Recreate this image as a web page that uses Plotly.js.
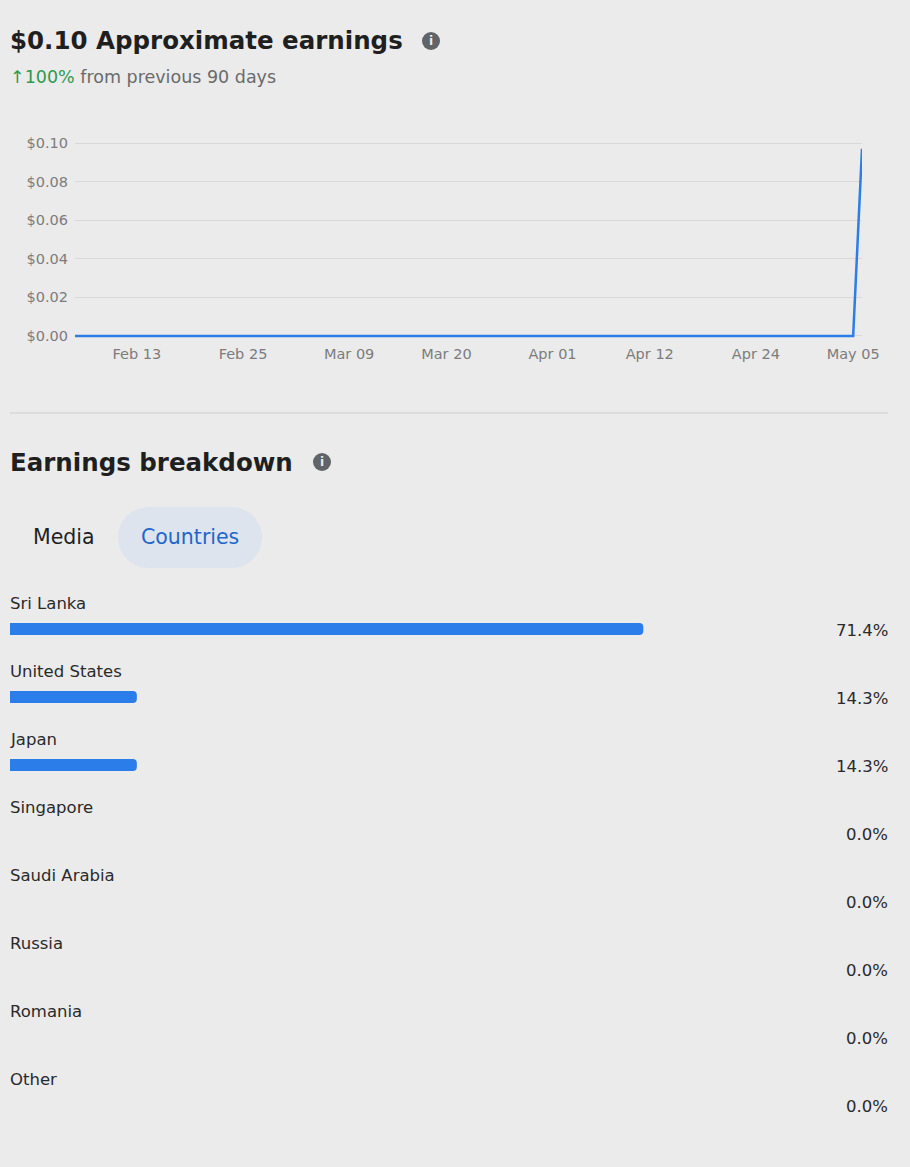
<!DOCTYPE html>
<html>
<head>
<meta charset="utf-8">
<script src="https://cdn.plot.ly/plotly-3.0.1.min.js"></script>
<style>
  html, body { margin: 0; padding: 0; background: #ebebeb; }
  #chart { width: 910px; height: 1167px; }
</style>
</head>
<body>
<div id="chart"></div>
<script>
// ---------- DATA ----------
const startDate = '2025-02-06';
const earnings = [
  0,0,0,0,0,0,0,0,0,0,
  0,0,0,0,0,0,0,0,0,0,
  0,0,0,0,0,0,0,0,0,0,
  0,0,0,0,0,0,0,0,0,0,
  0,0,0,0,0,0,0,0,0,0,
  0,0,0,0,0,0,0,0,0,0,
  0,0,0,0,0,0,0,0,0,0,
  0,0,0,0,0,0,0,0,0,0,
  0,0,0,0,0,0,0,0,0,0.097
];
const xTickVals = ['2025-02-13','2025-02-25','2025-03-09','2025-03-20','2025-04-01','2025-04-12','2025-04-24','2025-05-05'];
const xTickText = ['Feb 13','Feb 25','Mar 09','Mar 20','Apr 01','Apr 12','Apr 24','May 05'];
const yTickVals = [0, 0.02, 0.04, 0.06, 0.08, 0.10];
const yTickText = ['$0.00','$0.02','$0.04','$0.06','$0.08','$0.10'];

const countries = ['Sri Lanka','United States','Japan','Singapore','Saudi Arabia','Russia','Romania','Other'];
const shares = [71.4, 14.3, 14.3, 0.0, 0.0, 0.0, 0.0, 0.0];

// daily dates for the earnings series
const dates = earnings.map((_, i) => {
  const d = new Date(startDate + 'T00:00:00Z');
  d.setUTCDate(d.getUTCDate() + i);
  return d.toISOString().slice(0, 10);
});

// ---------- LAYOUT HELPERS ----------
const W = 910, H = 1167;
const fx = p => p / W;
const fy = p => 1 - p / H;

function pillPath(x0, y0, x1, y1, r) {
  const k = 0.5523 * r;
  const P = (x, y) => fx(x).toFixed(5) + ',' + fy(y).toFixed(5);
  return 'M' + P(x0 + r, y0) +
    ' L' + P(x1 - r, y0) +
    ' C' + P(x1 - r + k, y0) + ' ' + P(x1, y0 + r - k) + ' ' + P(x1, y0 + r) +
    ' C' + P(x1, y0 + r + k) + ' ' + P(x1 - r + k, y1) + ' ' + P(x1 - r, y1) +
    ' L' + P(x0 + r, y1) +
    ' C' + P(x0 + r - k, y1) + ' ' + P(x0, y1 - r + k) + ' ' + P(x0, y1 - r) +
    ' C' + P(x0, y0 + r - k) + ' ' + P(x0 + r - k, y0) + ' ' + P(x0 + r, y0) + ' Z';
}

function infoIcon(cx, cy) {
  return {
    type: 'circle', xref: 'paper', yref: 'paper',
    x0: fx(cx - 9), x1: fx(cx + 9), y0: fy(cy + 9), y1: fy(cy - 9),
    fillcolor: '#606368', line: { width: 0 }
  };
}

const FONT = '"DejaVu Sans", "Open Sans", sans-serif';
const blue = '#2b7de9';

// ---------- TRACES ----------
const lineTrace = {
  type: 'scatter', mode: 'lines',
  x: dates, y: earnings,
  line: { color: blue, width: 2.5 },
  xaxis: 'x', yaxis: 'y', hoverinfo: 'skip'
};

const barTrace = {
  type: 'bar', orientation: 'h',
  x: shares, y: countries,
  marker: { color: blue, cornerradius: 4 },
  xaxis: 'x2', yaxis: 'y2', hoverinfo: 'skip'
};

// ---------- ANNOTATIONS ----------
const annotations = [
  { text: '<b>$0.10 Approximate earnings</b>', xref: 'paper', yref: 'paper',
    x: fx(8), y: fy(41), xanchor: 'left', yanchor: 'middle', showarrow: false,
    font: { family: FONT, size: 24.5, color: '#1f1f1f' } },
  { text: '<b>i</b>', xref: 'paper', yref: 'paper', x: fx(431), y: fy(41),
    xanchor: 'center', yanchor: 'middle', showarrow: false,
    font: { family: FONT, size: 12, color: '#ebebeb' } },
  { text: '<span style="color:#2e9a4f">↑100%</span> from previous 90 days', xref: 'paper', yref: 'paper',
    x: fx(8), y: fy(77), xanchor: 'left', yanchor: 'middle', showarrow: false,
    font: { family: FONT, size: 17.5, color: '#6a6a6a' } },
  { text: '<b>Earnings breakdown</b>', xref: 'paper', yref: 'paper',
    x: fx(8), y: fy(462), xanchor: 'left', yanchor: 'middle', showarrow: false,
    font: { family: FONT, size: 24.5, color: '#1f1f1f' } },
  { text: '<b>i</b>', xref: 'paper', yref: 'paper', x: fx(322), y: fy(462),
    xanchor: 'center', yanchor: 'middle', showarrow: false,
    font: { family: FONT, size: 12, color: '#ebebeb' } },
  { text: 'Media', xref: 'paper', yref: 'paper', x: fx(64), y: fy(537),
    xanchor: 'center', yanchor: 'middle', showarrow: false,
    font: { family: FONT, size: 20.5, color: '#1f1f1f' } },
  { text: 'Countries', xref: 'paper', yref: 'paper', x: fx(190), y: fy(537),
    xanchor: 'center', yanchor: 'middle', showarrow: false,
    font: { family: FONT, size: 20.5, color: '#1f67c9' } }
];

countries.forEach((c, i) => {
  annotations.push({
    text: c, xref: 'paper', yref: 'y2', x: fx(8), y: c, yshift: 26,
    xanchor: 'left', yanchor: 'middle', showarrow: false,
    font: { family: FONT, size: 16.5, color: '#2a2a2a' }
  });
  annotations.push({
    text: shares[i].toFixed(1) + '%', xref: 'paper', yref: 'y2', x: fx(890), y: c, yshift: -1,
    xanchor: 'right', yanchor: 'middle', showarrow: false,
    font: { family: FONT, size: 16.5, color: '#2a2a2a' }
  });
});

// ---------- LAYOUT ----------
const yRange = [-0.0015, 0.1015];
const layout = {
  width: W, height: H,
  margin: { l: 0, r: 0, t: 0, b: 0 },
  paper_bgcolor: '#ebebeb', plot_bgcolor: '#ebebeb',
  showlegend: false,
  bargap: 0.82,
  xaxis: {
    type: 'date', domain: [fx(75), fx(862)],
    range: [dates[0], dates[dates.length - 1]],
    tickvals: xTickVals, ticktext: xTickText,
    showgrid: false, zeroline: false, showline: false, ticks: '',
    ticklabelstandoff: 5,
    tickfont: { family: FONT, size: 14.5, color: '#7c7c7c' },
    anchor: 'y', fixedrange: true
  },
  yaxis: {
    domain: [fy(336 + 0.0015 * 1930), fy(143 - 0.0015 * 1930)],
    range: yRange,
    tickmode: 'array', tickvals: yTickVals, ticktext: yTickText,
    showgrid: true, gridcolor: '#d8d8d8', gridwidth: 1,
    zeroline: false, showline: false, ticks: '',
    ticklabelstandoff: 6,
    tickfont: { family: FONT, size: 14.5, color: '#7c7c7c' },
    anchor: 'x', fixedrange: true
  },
  xaxis2: {
    domain: [fx(10), fx(897)], range: [0, 100],
    showgrid: false, zeroline: false, showline: false, showticklabels: false, ticks: '',
    anchor: 'y2', fixedrange: true
  },
  yaxis2: {
    domain: [fy(629 + 68 * 7.5), fy(629 - 34)],
    type: 'category', categoryarray: countries, range: [7.5, -0.5],
    showgrid: false, zeroline: false, showline: false, showticklabels: false, ticks: '',
    anchor: 'x2', fixedrange: true
  },
  shapes: [
    infoIcon(431, 41),
    infoIcon(322, 462),
    { type: 'line', xref: 'paper', yref: 'paper', x0: fx(10), x1: fx(888), y0: fy(413), y1: fy(413),
      line: { color: '#cdcdcd', width: 1 } },
    { type: 'path', xref: 'paper', yref: 'paper', path: pillPath(118, 507, 262, 568, 30.5),
      fillcolor: '#dde4ee', line: { width: 0 }, layer: 'below' }
  ],
  annotations: annotations
};

Plotly.newPlot('chart', [lineTrace, barTrace], layout, { staticPlot: true, displayModeBar: false });
</script>
</body>
</html>
